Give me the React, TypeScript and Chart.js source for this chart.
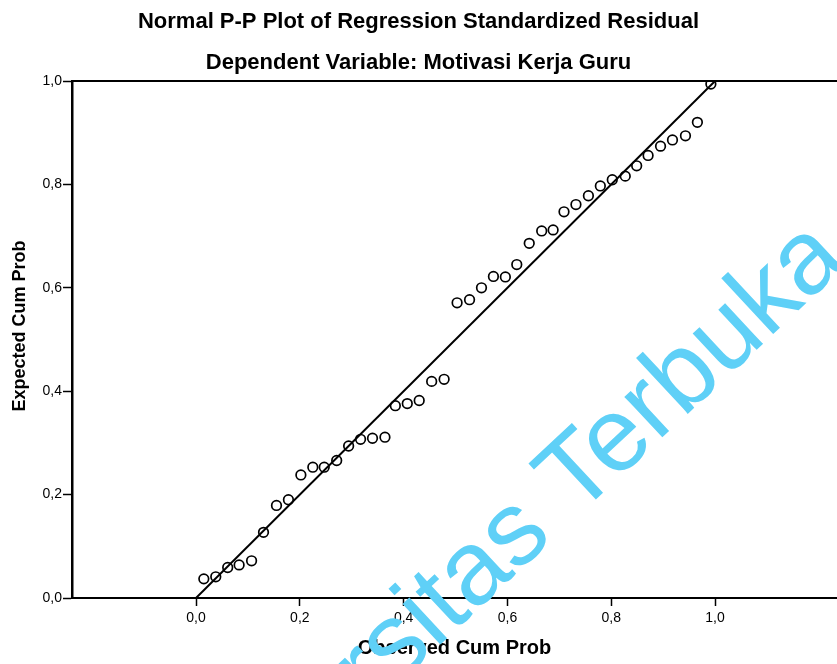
import React, { useEffect, useRef } from "react";
import { Chart, registerables } from "chart.js";

Chart.register(...registerables);

// ---- Data ----
const observedCumProb = [
  0.015, 0.038, 0.061, 0.083, 0.107, 0.130, 0.155, 0.178, 0.202, 0.225,
  0.247, 0.271, 0.294, 0.317, 0.340, 0.364, 0.384, 0.407, 0.430, 0.454,
  0.478, 0.503, 0.527, 0.550, 0.573, 0.596, 0.618, 0.642, 0.666, 0.688,
  0.709, 0.732, 0.756, 0.779, 0.802, 0.827, 0.849, 0.871, 0.895, 0.918,
  0.943, 0.966, 0.992,
];
const expectedCumProb = [
  0.037, 0.041, 0.059, 0.064, 0.072, 0.127, 0.179, 0.190, 0.238, 0.253,
  0.253, 0.266, 0.294, 0.307, 0.309, 0.311, 0.372, 0.376, 0.382, 0.419,
  0.423, 0.571, 0.577, 0.600, 0.622, 0.621, 0.645, 0.686, 0.710, 0.712,
  0.747, 0.761, 0.778, 0.797, 0.809, 0.816, 0.836, 0.856, 0.874, 0.886,
  0.894, 0.920, 0.994,
];
const refLineX = [0, 1];
const refLineY = [0, 1];
const tickValues = [0, 0.2, 0.4, 0.6, 0.8, 1.0];

const titleText = "Normal P-P Plot of Regression Standardized Residual";
const subtitleText = "Dependent Variable: Motivasi Kerja Guru";
const xAxisTitle = "Observed Cum Prob";
const yAxisTitle = "Expected Cum Prob";
const watermarkText = "Universitas Terbuka";
const watermarkLead = "Universitas ";

const FONT = '"Liberation Sans", Arial, Helvetica, sans-serif';

const fmt = (v: number) => v.toFixed(1).replace(".", ",");

const framePlugin = {
  id: "frame",
  beforeDatasetsDraw(chart: any) {
    const { ctx, chartArea } = chart;
    ctx.save();
    ctx.strokeStyle = "#000";
    ctx.lineWidth = 2;
    ctx.beginPath();
    ctx.moveTo(chartArea.left, chartArea.top);
    ctx.lineTo(chartArea.right, chartArea.top);
    ctx.stroke();
    ctx.restore();
  },
};

const yTitlePlugin = {
  id: "yTitle",
  afterDraw(chart: any) {
    const { ctx } = chart;
    ctx.save();
    ctx.fillStyle = "#000";
    ctx.font = `bold 18px ${FONT}`;
    ctx.textAlign = "center";
    ctx.textBaseline = "middle";
    ctx.translate(20, 326);
    ctx.rotate(-Math.PI / 2);
    ctx.fillText(yAxisTitle, 0, 0);
    ctx.restore();
  },
};

const watermarkPlugin = {
  id: "watermark",
  afterDraw(chart: any) {
    const { ctx } = chart;
    ctx.save();
    ctx.font = `105px ${FONT}`;
    ctx.fillStyle = "#5fd0f7";
    ctx.textAlign = "left";
    ctx.textBaseline = "alphabetic";
    ctx.translate(576, 518);
    ctx.rotate((-43 * Math.PI) / 180);
    const lead = ctx.measureText(watermarkLead).width;
    ctx.fillText(watermarkText, -lead, 0);
    ctx.restore();
  },
};

export default function App() {
  const canvasRef = useRef<HTMLCanvasElement | null>(null);

  useEffect(() => {
    if (!canvasRef.current) return;
    const points = observedCumProb.map((x, i) => ({ x, y: expectedCumProb[i] }));
    const line = refLineX.map((x, i) => ({ x, y: refLineY[i] }));

    const chart = new Chart(canvasRef.current, {
      type: "scatter",
      data: {
        datasets: [
          {
            type: "line",
            data: line,
            borderColor: "#000",
            borderWidth: 2,
            pointRadius: 0,
            fill: false,
          } as any,
          {
            data: points,
            pointStyle: "circle",
            pointRadius: 4.8,
            borderWidth: 1.7,
            borderColor: "#000",
            backgroundColor: "rgba(0,0,0,0)",
          },
        ],
      },
      options: {
        animation: false,
        responsive: false,
        devicePixelRatio: 1,
        layout: { padding: 0, autoPadding: false },
        plugins: {
          legend: { display: false },
          tooltip: { enabled: false },
          title: {
            display: true,
            text: titleText,
            color: "#000",
            font: { family: FONT, size: 22, weight: "bold" },
            padding: { top: 9, bottom: 13.9 },
          },
          subtitle: {
            display: true,
            text: subtitleText,
            color: "#000",
            font: { family: FONT, size: 22, weight: "bold" },
            padding: { top: 0, bottom: 5.3 },
          },
        },
        scales: {
          x: {
            type: "linear",
            min: -0.239,
            max: 1.235,
            afterBuildTicks: (scale: any) => {
              scale.ticks = tickValues.map((v) => ({ value: v }));
            },
            afterFit: (scale: any) => {
              scale.height = 66;
              scale.paddingLeft = 0;
              scale.paddingRight = 0;
            },
            ticks: {
              color: "#000",
              font: { family: FONT, size: 14 },
              padding: 4,
              maxRotation: 0,
              callback: (v: any) => fmt(Number(v)),
            },
            grid: {
              drawOnChartArea: false,
              drawTicks: true,
              tickLength: 8,
              tickWidth: 1.5,
              tickColor: "#000",
            },
            border: { display: true, color: "#000", width: 2 },
            title: {
              display: true,
              text: xAxisTitle,
              color: "#000",
              font: { family: FONT, size: 20, weight: "bold" },
              padding: { top: 0, bottom: 4 },
            },
          },
          y: {
            type: "linear",
            min: 0,
            max: 1,
            afterBuildTicks: (scale: any) => {
              scale.ticks = tickValues.map((v) => ({ value: v }));
            },
            afterFit: (scale: any) => {
              scale.width = 72;
            },
            ticks: {
              color: "#000",
              font: { family: FONT, size: 14 },
              padding: 1,
              callback: (v: any) => fmt(Number(v)),
            },
            grid: {
              drawOnChartArea: false,
              drawTicks: true,
              tickLength: 9,
              tickWidth: 1.5,
              tickColor: "#000",
            },
            border: { display: true, color: "#000", width: 2.5 },
          },
        },
      },
      plugins: [framePlugin, yTitlePlugin, watermarkPlugin],
    });

    return () => chart.destroy();
  }, []);

  return (
    <div style={{ position: "absolute", left: 0, top: 0, width: 837, height: 664, background: "#fff" }}>
      <canvas ref={canvasRef} width={837} height={664} />
    </div>
  );
}
